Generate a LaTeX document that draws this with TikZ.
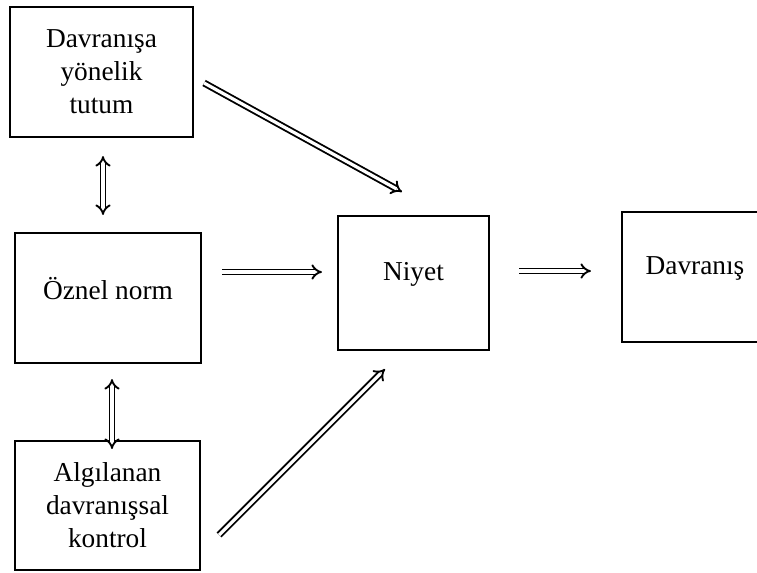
\documentclass[tikz,border=0pt]{standalone}
\usepackage{fontspec}
\setmainfont{Liberation Serif}
\usetikzlibrary{arrows.meta}

\tikzset{
  kutu/.style={draw, line width=1.6pt, align=center, inner sep=0pt, font=\fontsize{20.5}{24.75}\selectfont},
  okcift/.style={draw, line width=1.4pt, double, double distance=2.4pt, -{Implies[scale=1.2]}},
  okiki/.style={okcift, {Implies[scale=1.2]}-{Implies[scale=1.2]}}
}

\begin{document}
\begin{tikzpicture}[x=0.75pt,y=-0.75pt]
\clip (0,0) rectangle (757,572);
\node[kutu, minimum width=137.25pt, minimum height=97.5pt] (tutum) at (101.5,72) {Davranışa\\yönelik\\tutum};
\node[kutu, minimum width=139.5pt, minimum height=97.5pt, text depth=14pt] (oznel) at (108,298) {Öznel norm};
\node[kutu, minimum width=138.75pt, minimum height=96.75pt] (algi) at (107.5,505.5) {Algılanan\\davranışsal\\kontrol};
\node[kutu, minimum width=113.25pt, minimum height=100.5pt, text depth=18pt] (niyet) at (413.5,283) {Niyet};
\node[kutu, minimum width=109.5pt, minimum height=97.5pt, text depth=17pt] (davranis) at (695,277) {Davranış};
\path[okiki] ([shift={(1.5,18)}]tutum.south) -- ([shift={(-5,-17)}]oznel.north);
\path[okiki] ([shift={(4,15)}]oznel.south) -- ([shift={(4.5,9)}]algi.north);
\path[okcift] ([shift={(10,11)}]tutum.east) -- ([shift={(-11.5,-23)}]niyet.north);
\path[okcift] ([shift={(20,-26)}]oznel.east) -- ([shift={(-15,-11)}]niyet.west);
\path[okcift] ([shift={(18,29.5)}]algi.east) -- ([shift={(-28.5,18)}]niyet.south);
\path[okcift] ([shift={(29,-12)}]niyet.east) -- ([shift={(-30,-6)}]davranis.west);
\end{tikzpicture}
\end{document}
